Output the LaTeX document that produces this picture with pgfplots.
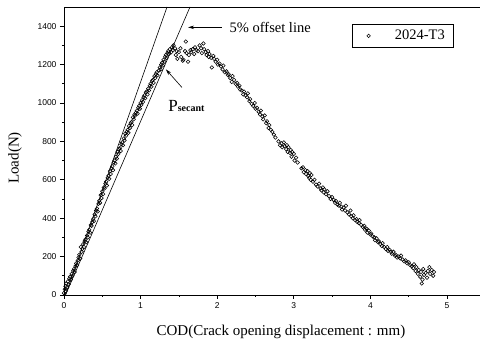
\documentclass[border=0pt]{standalone}
\usepackage{fontspec}
\setmainfont{Liberation Serif}
\setsansfont{Liberation Sans}
\usepackage{pgfplots}
\pgfplotsset{compat=1.18}
\usetikzlibrary{arrows.meta}
\pgfplotstableread{
x y
0.00 10
0.01 30
0.02 45
0.02 20
0.03 60
0.04 40
0.05 70
0.06 55
0.07 85
0.08 95
0.09 80
0.10 110
0.11 100
0.12 125
0.13 135
0.14 120
0.15 150
0.16 165
0.17 155
0.18 180
0.19 195
0.20 210
0.21 190
0.22 250
0.23 225
0.24 240
0.25 265
0.26 250
0.27 280
0.28 290
0.29 275
0.30 310
0.31 300
0.32 330
0.33 340
0.34 325
0.35 365
0.36 360
0.37 380
0.38 395
0.39 385
0.40 420
0.41 410
0.42 440
0.43 450
0.44 435
0.45 475
0.46 490
0.47 480
0.48 520
0.49 505
0.50 540
0.51 525
0.52 560
0.53 555
0.54 580
0.55 590
0.56 570
0.57 610
0.58 620
0.59 605
0.60 645
0.61 630
0.62 660
0.63 670
0.64 650
0.65 690
0.66 700
0.67 685
0.68 720
0.69 710
0.70 745
0.71 735
0.72 760
0.73 765
0.74 750
0.75 785
0.76 795
0.77 780
0.78 815
0.79 805
0.80 840
0.81 830
0.82 850
0.83 860
0.84 845
0.85 880
0.86 870
0.87 895
0.88 900
0.89 885
0.90 925
0.91 915
0.92 940
0.93 935
0.94 950
0.95 960
0.96 945
0.97 975
0.98 985
0.99 970
1.00 1000
1.01 990
1.02 1015
1.03 1005
1.04 1030
1.05 1040
1.06 1025
1.07 1055
1.08 1060
1.09 1045
1.10 1075
1.11 1065
1.12 1090
1.13 1100
1.14 1085
1.15 1115
1.16 1120
1.17 1105
1.18 1140
1.19 1130
1.20 1150
1.21 1160
1.22 1145
1.24 1170
1.25 1185
1.26 1175
1.27 1200
1.28 1210
1.29 1195
1.30 1225
1.31 1215
1.32 1240
1.33 1250
1.34 1235
1.35 1260
1.36 1270
1.37 1255
1.38 1280
1.40 1265
1.41 1290
1.42 1275
1.43 1300
1.45 1285
1.46 1250
1.47 1270
1.48 1230
1.50 1265
1.52 1285
1.53 1240
1.55 1220
1.56 1225
1.58 1270
1.59 1320
1.60 1260
1.62 1215
1.63 1250
1.65 1275
1.66 1265
1.68 1280
1.70 1255
1.71 1290
1.73 1275
1.75 1270
1.77 1300
1.79 1285
1.80 1260
1.82 1310
1.83 1280
1.85 1265
1.86 1250
1.88 1270
1.89 1240
1.90 1255
1.92 1235
1.93 1185
1.95 1245
1.96 1230
1.98 1215
2.00 1225
2.01 1200
2.03 1205
2.05 1190
2.07 1175
2.08 1195
2.10 1160
2.12 1165
2.14 1145
2.15 1150
2.17 1130
2.19 1110
2.20 1140
2.22 1120
2.24 1100
2.26 1105
2.27 1085
2.29 1090
2.30 1070
2.32 1065
2.34 1045
2.35 1060
2.37 1040
2.39 1030
2.40 1050
2.42 1010
2.43 1020
2.45 995
2.47 985
2.49 1000
2.50 970
2.52 975
2.54 955
2.56 940
2.57 960
2.59 930
2.60 915
2.62 935
2.64 895
2.65 905
2.67 870
2.68 885
2.70 860
2.72 850
2.74 835
2.76 820
2.80 800
2.82 780
2.84 790
2.85 770
2.87 795
2.88 775
2.90 760
2.91 780
2.92 745
2.93 770
2.95 740
2.96 755
2.97 720
2.98 745
3.00 735
3.01 700
3.03 715
3.05 690
3.10 660
3.12 665
3.13 640
3.15 650
3.16 630
3.18 645
3.19 620
3.20 610
3.21 635
3.22 600
3.23 625
3.25 590
3.27 600
3.29 575
3.31 565
3.33 580
3.35 555
3.36 545
3.38 560
3.39 535
3.40 550
3.42 525
3.44 540
3.46 515
3.48 500
3.50 510
3.52 495
3.54 480
3.55 490
3.57 470
3.59 465
3.60 480
3.62 460
3.63 445
3.65 455
3.67 440
3.68 465
3.70 430
3.72 420
3.74 440
3.75 410
3.77 400
3.78 415
3.80 390
3.82 395
3.83 380
3.85 375
3.86 390
3.88 365
3.90 355
3.92 360
3.93 340
3.95 345
3.96 325
3.98 335
4.00 315
4.01 320
4.03 305
4.05 300
4.06 285
4.08 295
4.10 275
4.11 280
4.13 265
4.15 255
4.16 270
4.18 250
4.20 240
4.22 250
4.23 230
4.25 235
4.27 225
4.28 215
4.30 225
4.32 205
4.33 210
4.35 195
4.37 200
4.39 190
4.40 205
4.42 185
4.44 175
4.46 180
4.48 165
4.50 170
4.52 155
4.54 150
4.56 140
4.57 160
4.59 125
4.60 145
4.62 110
4.63 130
4.65 95
4.66 120
4.67 60
4.68 80
4.69 135
4.70 105
4.72 115
4.74 90
4.75 125
4.77 145
4.78 110
4.80 130
4.82 100
4.83 120
}\loaddata
\begin{document}
\begin{tikzpicture}
\path[use as bounding box] (-64pt,-47pt) rectangle (416pt,295pt);
\begin{axis}[
  scale only axis, width=418pt, height=288pt,
  xmin=0, xmax=5.457, ymin=0, ymax=1500,
  xtick={0,1,2,3,4,5}, ytick={0,200,400,600,800,1000,1200,1400},
  minor x tick num=1, minor y tick num=1,
  tick pos=left, tick align=outside,
  major tick length=4pt, minor tick length=2pt,
  axis line style={black, line width=0.9pt},
  tick style={black, line width=0.7pt},
  ticklabel style={font=\sffamily\fontsize{8.5}{9}\selectfont},
  /pgf/number format/assume math mode=true,
  /pgf/number format/1000 sep={},
  xlabel={COD(Crack opening displacement : mm)},
  ylabel={Load(N)},
  label style={font=\fontsize{15}{16}\selectfont},
  xlabel style={at={(axis description cs:0.519,-0.128)}, anchor=center},
  ylabel style={at={(axis description cs:-0.117,0.476)}, anchor=center},
  legend style={at={(axis description cs:0.689,0.941)}, anchor=north west,
    draw=black, line width=0.6pt, font=\fontsize{14.5}{16}\selectfont,
    inner xsep=6pt, inner ysep=4pt},
  legend image code/.code={\draw[#1] plot coordinates {(0pt,0pt)}; \path (-10pt,0pt) (24pt,0pt);},
  clip=false,
]
\addplot[only marks, mark=o, mark size=1.8pt, mark options={line width=0.55pt, black}] table[x=x,y=y] {\loaddata};
\addlegendentry{2024-T3}
\addplot[black, line width=0.6pt, forget plot] coordinates {(0.02,0) (1.345,1500)};
\addplot[black, line width=0.6pt, forget plot] coordinates {(0.02,0) (1.645,1500)};
\draw[line width=0.6pt, -{Stealth[length=6pt,width=3.5pt]}] (axis cs:2.06,1394) -- (axis cs:1.62,1394);
\node[anchor=west, font=\fontsize{14.5}{16}\selectfont, inner sep=0pt] at (axis cs:2.16,1394) {5\% offset line};
\draw[line width=0.6pt, -{Stealth[length=6pt,width=3.5pt]}] (axis cs:1.54,1081) -- (axis cs:1.33,1175);
\node[anchor=base west, inner sep=0pt] at (axis cs:1.36,956) {{\fontsize{17}{18}\selectfont P}{\fontsize{10}{11}\selectfont\bfseries secant}};
\end{axis}
\end{tikzpicture}
\end{document}
